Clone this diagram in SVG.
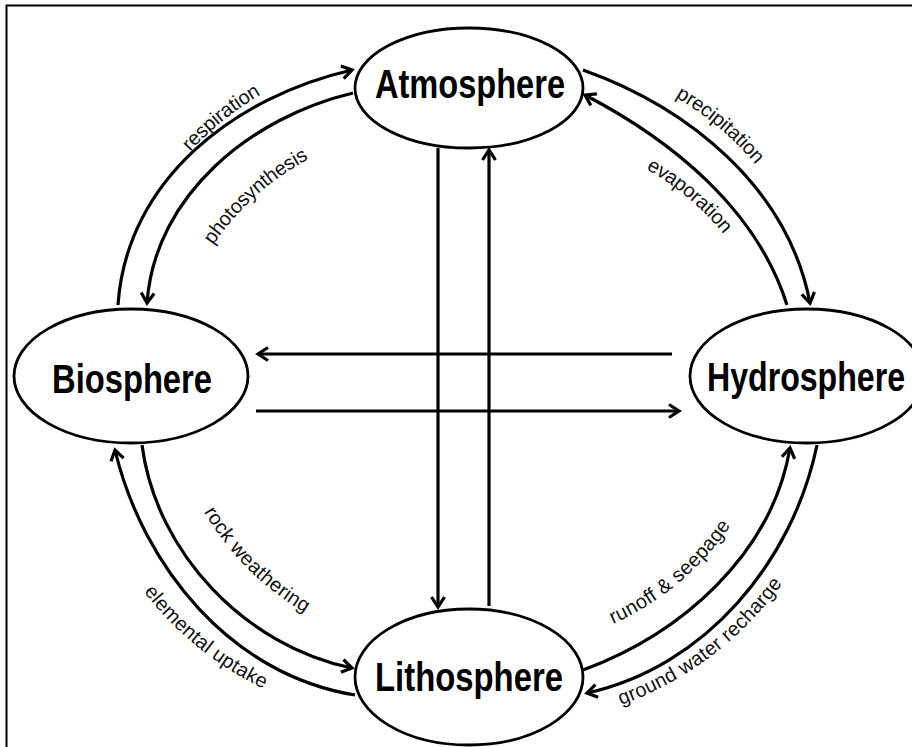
<svg xmlns="http://www.w3.org/2000/svg" width="912" height="747" viewBox="0 0 912 747">
<style>
.node{fill:#fff;stroke:#000;stroke-width:2.8}
.name{font-family:"Liberation Sans",Arial,sans-serif;font-weight:bold;font-size:40px;fill:#000;text-anchor:middle}
.conn{fill:none;stroke:#000;stroke-width:3.2;marker-end:url(#ah)}
.lbl{font-family:"Liberation Sans",Arial,sans-serif;font-size:20px;fill:#111;text-anchor:middle;dominant-baseline:central}
</style>
<defs>
<marker id="ah" markerUnits="userSpaceOnUse" orient="auto" overflow="visible" refX="0" refY="0" markerWidth="20" markerHeight="20">
<path d="M-10,-6.5 L0,0 L-10,6.5" fill="none" stroke="#000" stroke-width="3.2"/>
</marker>
<path id="p1" d="M178.4,154.6 Q215.7,110.9 266.2,83.6"/>
<path id="p2" d="M201.4,250.2 Q243.8,183 315,147.8"/>
<path id="p3" d="M669.6,86 Q727.4,116.8 767.6,168.4"/>
<path id="p4" d="M640,157.8 Q697.1,187 735.8,238.2"/>
<path id="p5" d="M204.4,498.4 Q244.3,572.3 318.2,612.2"/>
<path id="p6" d="M142.6,578.9 Q195.4,650.4 276.2,687.1"/>
<path id="p7" d="M599.6,622.3 Q683.1,588 731.4,511.7"/>
<path id="p8" d="M607.3,702.5 Q717.8,665.6 783.9,569.5"/>
</defs>
<rect x="0" y="0" width="912" height="747" fill="#fff"/>
<polyline points="6.5,747 6.5,5.5 912,5.5" fill="none" stroke="#000" stroke-width="2"/>

<g id="connectors">
<path class="conn" d="M118,305 C126.4,179.1 235.9,96.4 352,70"/>
<path class="conn" d="M353,93 C252.5,116.9 154.9,193.7 147,303"/>
<path class="conn" d="M583,70 C688.5,107.6 787.7,187.2 810,303"/>
<path class="conn" d="M787,305 C756.6,208.6 671.8,140.4 585,95"/>
<path class="conn" d="M142,445 C156.2,553.7 246,646.3 352,668"/>
<path class="conn" d="M355,695 C231,675 143,567 115,450"/>
<path class="conn" d="M583,670 C680.9,633.9 771.6,555 790,448"/>
<path class="conn" d="M817,445 C793,561 706,667 587,693"/>
<path class="conn" d="M438,148 L438,607"/>
<path class="conn" d="M489,606 L489,150"/>
<path class="conn" d="M672,354 L258,354"/>
<path class="conn" d="M256,411 L679,411"/>
<text class="lbl"><textPath href="#p1" startOffset="50%">respiration</textPath></text>
<text class="lbl"><textPath href="#p2" startOffset="50%">photosynthesis</textPath></text>
<text class="lbl"><textPath href="#p3" startOffset="50%">precipitation</textPath></text>
<text class="lbl"><textPath href="#p4" startOffset="50%">evaporation</textPath></text>
<text class="lbl"><textPath href="#p5" startOffset="50%">rock weathering</textPath></text>
<text class="lbl"><textPath href="#p6" startOffset="50%">elemental uptake</textPath></text>
<text class="lbl"><textPath href="#p7" startOffset="50%">runoff &amp; seepage</textPath></text>
<text class="lbl"><textPath href="#p8" startOffset="50%">ground water recharge</textPath></text>
</g>

<g id="atmosphere">
<ellipse class="node" cx="469" cy="88" rx="114" ry="60"/>
<text class="name" x="470" y="98" textLength="190" lengthAdjust="spacingAndGlyphs">Atmosphere</text>
</g>
<g id="biosphere">
<ellipse class="node" cx="131" cy="376" rx="117" ry="67"/>
<text class="name" x="132" y="393" textLength="160" lengthAdjust="spacingAndGlyphs">Biosphere</text>
</g>
<g id="hydrosphere">
<ellipse class="node" cx="807" cy="376" rx="117" ry="67"/>
<text class="name" x="806" y="391" textLength="198" lengthAdjust="spacingAndGlyphs">Hydrosphere</text>
</g>
<g id="lithosphere">
<ellipse class="node" cx="469" cy="677" rx="114" ry="68"/>
<text class="name" x="469" y="691" textLength="188" lengthAdjust="spacingAndGlyphs">Lithosphere</text>
</g>
</svg>
